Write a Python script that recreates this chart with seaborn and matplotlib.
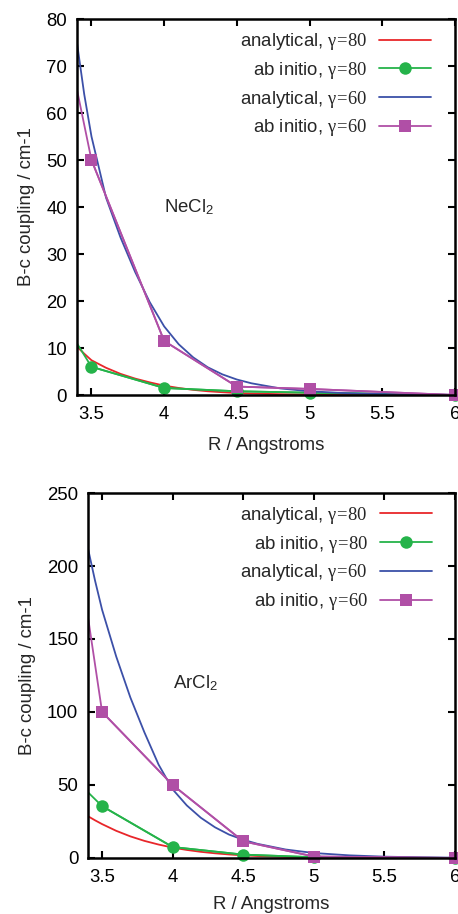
import numpy as np
import pandas as pd
import matplotlib
matplotlib.use('Agg')
import matplotlib.pyplot as plt
import seaborn as sns

# ---- data ----
# dense R grid for the analytical curves
R_fit = [3.4, 3.45, 3.5, 3.6, 3.7, 3.8, 3.9, 4.0, 4.1, 4.2, 4.3, 4.4,
         4.5, 4.6, 4.8, 5.0, 5.25, 5.5, 5.75, 6.0]
# ab initio points (3.4 is only the start of the drawn line, no marker there)
R_ab = [3.4, 3.5, 4.0, 4.5, 5.0, 6.0]

# NeCl2
ne_an80 = [10.3, 8.8, 7.4, 5.8, 4.5, 3.5, 2.7, 2.0, 1.5, 1.1, 0.8, 0.6,
           0.42, 0.32, 0.18, 0.1, 0.05, 0.03, 0.01, 0.0]
ne_ab80 = [11.0, 6.0, 1.5, 0.8, 0.5, 0.0]
ne_an60 = [75.0, 64.0, 55.0, 42.0, 33.5, 26.2, 19.8, 14.6, 10.8, 8.0, 5.9, 4.4,
           3.3, 2.5, 1.4, 0.8, 0.4, 0.2, 0.1, 0.05]
ne_ab60 = [65.0, 50.0, 11.5, 1.8, 1.3, 0.0]

# ArCl2
ar_an80 = [28.6, 25.8, 23.2, 18.6, 14.8, 11.7, 9.2, 7.1, 5.5, 4.2, 3.2, 2.4,
           1.8, 1.35, 0.75, 0.4, 0.2, 0.1, 0.05, 0.02]
ar_ab80 = [45.0, 35.5, 7.5, 2.3, 0.5, 0.0]
ar_an60 = [212.0, 190.0, 170.0, 138.0, 110.0, 86.0, 64.0, 47.0, 36.0, 27.5, 21.0, 16.0,
           12.5, 9.7, 5.8, 3.4, 1.8, 0.9, 0.45, 0.2]
ar_ab60 = [165.0, 100.0, 50.0, 11.4, 1.0, 0.0]

x_ticks = [3.5, 4.0, 4.5, 5.0, 5.5, 6.0]
x_ticklabels = ['3.5', '4', '4.5', '5', '5.5', '6']

labels = [r'analytical, $\mathrm{\gamma\!=\!80}$', r'ab initio, $\mathrm{\gamma\!=\!80}$',
          r'analytical, $\mathrm{\gamma\!=\!60}$', r'ab initio, $\mathrm{\gamma\!=\!60}$']
colors = ['#e8262a', '#25b34a', '#3c50a8', '#b04fa6']

sns.set_style('ticks')
plt.rcParams['font.family'] = ['Liberation Sans', 'DejaVu Sans']
plt.rcParams['mathtext.fontset'] = 'custom'
plt.rcParams['mathtext.rm'] = 'Liberation Serif'
plt.rcParams['mathtext.it'] = 'Liberation Serif:italic'
plt.rcParams['mathtext.sf'] = 'Liberation Sans'
FS = 13.4


def panel(ax, an80, ab80, an60, ab60, ymax, ystep, name, name_y, xpad):
    fit = pd.DataFrame({'R': R_fit, 'an80': an80, 'an60': an60})
    ab = pd.DataFrame({'R': R_ab, 'ab80': ab80, 'ab60': ab60})
    pts = ab[ab['R'] >= 3.5]

    sns.lineplot(data=fit, x='R', y='an80', ax=ax, color=colors[0], lw=1.3,
                 label=labels[0])
    sns.lineplot(data=ab, x='R', y='ab80', ax=ax, color=colors[1], lw=1.3)
    sns.lineplot(data=pts, x='R', y='ab80', ax=ax, color=colors[1], lw=1.3,
                 marker='o', markersize=9, markeredgewidth=0, clip_on=False,
                 label=labels[1])
    sns.lineplot(data=fit, x='R', y='an60', ax=ax, color=colors[2], lw=1.3,
                 label=labels[2])
    sns.lineplot(data=ab, x='R', y='ab60', ax=ax, color=colors[3], lw=1.3)
    sns.lineplot(data=pts, x='R', y='ab60', ax=ax, color=colors[3], lw=1.3,
                 marker='s', markersize=9, markeredgewidth=0, clip_on=False,
                 label=labels[3])

    ax.set_xlim(3.4, 6.0)
    ax.set_ylim(0, ymax)
    ax.set_xticks(x_ticks)
    ax.set_xticklabels(x_ticklabels)
    ax.set_yticks(np.arange(0, ymax + 1, ystep))
    ax.tick_params(direction='in', length=5, width=1.5, top=True, right=True,
                   labelsize=FS, colors='black')
    ax.tick_params(axis='x', pad=8)
    ax.tick_params(axis='y', pad=7)
    for sp in ax.spines.values():
        sp.set_visible(True)
        sp.set_linewidth(1.8)
        sp.set_color('black')
    ax.set_xlabel('R / Angstroms', fontsize=FS, labelpad=xpad)
    ax.set_ylabel('B-c coupling / cm-1', fontsize=FS, labelpad=8)
    ax.text(4.0, name_y, name, fontsize=FS, va='center', ha='left')

    leg = ax.legend(loc='upper right', bbox_to_anchor=(0.938, 0.968),
                    frameon=False, markerfirst=False, fontsize=FS,
                    handlelength=2.8, handletextpad=0.65, labelspacing=0.42,
                    borderpad=0, borderaxespad=0)
    return leg


fig = plt.figure(figsize=(4.58, 9.14), dpi=100)
ax1 = fig.add_axes([0.168, 0.5678, 0.8253, 0.4114])
ax2 = fig.add_axes([0.1921, 0.0613, 0.8013, 0.3993])

panel(ax1, ne_an80, ne_ab80, ne_an60, ne_ab60, 80, 10, r'NeCl$_\mathsf{2}$', 40, 10)
panel(ax2, ar_an80, ar_ab80, ar_an60, ar_ab60, 250, 50, r'ArCl$_\mathsf{2}$', 120, 7)

fig.savefig('out.png', dpi=100)
